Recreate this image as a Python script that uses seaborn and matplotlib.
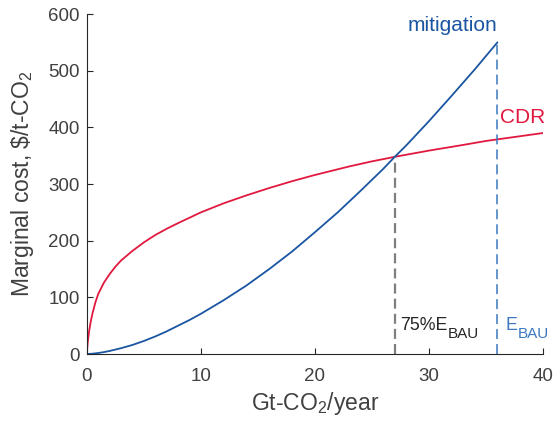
import matplotlib
matplotlib.use("Agg")
import matplotlib.pyplot as plt
import numpy as np
import pandas as pd
import seaborn as sns

# Marginal cost of mitigation (emission cuts) vs. x = Gt-CO2/year
mit_x = [0, 0.5, 1, 1.5, 2, 3, 4, 5, 6, 7, 8, 9, 10, 12, 14, 16, 18, 20, 22, 24, 26, 27,
         28, 30, 32, 34, 36]
mit_y = [0, 0.6, 1.8, 3.4, 5.4, 10.3, 16, 23, 31, 40, 50, 60, 71, 95, 121, 150, 181, 215, 250,
         288, 327, 348, 368, 411, 456, 502, 550]

# Marginal cost of carbon dioxide removal (CDR)
cdr_x = [0, 0.05, 0.1, 0.2, 0.35, 0.5, 0.75, 1, 1.5, 2, 2.5, 3, 4, 5, 6, 7, 8, 10, 12, 14,
         16, 18, 20, 23, 25, 27, 30, 33, 35, 40]
cdr_y = [0, 14, 24, 40, 58, 72, 91, 106, 126, 141, 154, 165, 182, 197, 210, 221, 231, 250, 266,
         280, 293, 305, 316, 331, 340, 348, 359, 369, 376, 390]

e_bau = 36          # business-as-usual emissions
share = 0.75        # fraction of E_BAU
x_ticks = [0, 10, 20, 30, 40]
y_ticks = [0, 100, 200, 300, 400, 500, 600]

BLUE = "#1a55a2"
RED = "#e1193f"
DASH_BLUE = "#3b78c0"
GRAY = "#7f7f7f"
AXC = "#262626"

sns.set_theme(style="ticks")
plt.rcParams["font.family"] = ["Liberation Sans", "DejaVu Sans"]
plt.rcParams["mathtext.default"] = "regular"

mit = pd.DataFrame({"x": mit_x, "y": mit_y})
cdr = pd.DataFrame({"x": cdr_x, "y": cdr_y})

fig = plt.figure(figsize=(5.53, 4.25), dpi=100)
ax = fig.add_axes([0.157, 0.167, 0.825, 0.80])

sns.lineplot(data=cdr, x="x", y="y", ax=ax, color=RED, lw=1.3, estimator=None, sort=False)
sns.lineplot(data=mit, x="x", y="y", ax=ax, color=BLUE, lw=1.3, estimator=None, sort=False)

x_cut = share * e_bau
y_cut = float(np.interp(x_cut, mit_x, mit_y))
y_bau = float(np.interp(e_bau, mit_x, mit_y))
ax.vlines(x_cut, 0, y_cut, colors=GRAY, linestyles=(0, (4.5, 2.3)), lw=1.6)
ax.vlines(e_bau, 0, y_bau, colors=DASH_BLUE, linestyles=(0, (6.5, 3.3)), lw=1.1)

ax.text(e_bau, 570, "mitigation", color=BLUE, fontsize=15, ha="right", va="baseline")
ax.text(e_bau + 0.2, 407, "CDR", color=RED, fontsize=15, ha="left", va="baseline")


def label_with_sub(x, y, main, sub, color):
    t = ax.text(x, y, main, color=color, fontsize=12.8, ha="left", va="baseline")
    ax.annotate(sub, xy=(1, y), xycoords=(t, "data"), xytext=(0.2, -5.8),
                textcoords="offset points", color=color, fontsize=11,
                ha="left", va="baseline")


label_with_sub(x_cut + 0.5, 42, "75%E", "BAU", AXC)
label_with_sub(e_bau + 0.7, 42, "E", "BAU", DASH_BLUE)

ax.set_xlim(0, 40)
ax.set_ylim(0, 600)
ax.set_xticks(x_ticks)
ax.set_yticks(y_ticks)
ax.set_xlabel("Gt-CO$_2$/year", fontsize=16.5, color="#404040", labelpad=4)
ax.set_ylabel("Marginal cost, \\$/t-CO$_2$", fontsize=16.5, color="#404040", labelpad=9)
ax.tick_params(direction="in", length=4, width=0.8, colors=AXC, labelsize=13.5,
               labelcolor="#404040")
ax.tick_params(axis="x", pad=10)
ax.tick_params(axis="y", pad=5)
for side in ("top", "right"):
    ax.spines[side].set_visible(False)
for side in ("left", "bottom"):
    ax.spines[side].set_color(AXC)
    ax.spines[side].set_linewidth(0.8)

fig.savefig("out.png", dpi=100)
